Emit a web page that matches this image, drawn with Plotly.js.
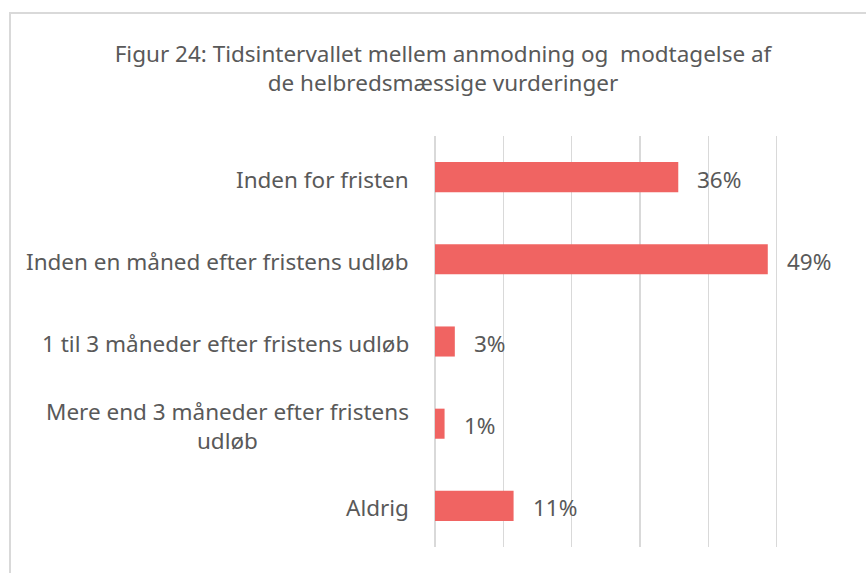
<!DOCTYPE html>
<html>
<head>
<meta charset="utf-8">
<script src="https://cdn.plot.ly/plotly-3.0.1.min.js"></script>
<style>html,body{margin:0;padding:0;background:#fff;}#chart{width:866px;height:573px;}</style>
</head>
<body>
<div id="chart"></div>
<script>
const categories = [
  "Inden for fristen",
  "Inden en måned efter fristens udløb",
  "1 til 3 måneder efter fristens udløb",
  "Mere end 3 måneder efter fristens<br>udløb",
  "Aldrig"
];
const values = [35.6, 48.7, 2.9, 1.4, 11.5];
const valueLabels = ["36%", "49%", "3%", "1%", "11%"];
const titleText = "Figur 24: Tidsintervallet mellem anmodning og  modtagelse af<br>de helbredsmæssige vurderinger";

const textColor = "#595959";
const fontFam = "Noto Sans, Open Sans, sans-serif";

const trace = {
  type: "bar",
  orientation: "h",
  x: values,
  y: categories,
  marker: {color: "#f06462"},
  hoverinfo: "skip"
};

const annotations = [];
categories.forEach((c, i) => {
  annotations.push({
    xref: "paper", yref: "y", x: 0, y: c, xanchor: "right", yanchor: "middle",
    xshift: -24, yshift: -2, text: c, showarrow: false, align: "center",
    font: {family: fontFam, size: 22.5, color: textColor}
  });
  annotations.push({
    xref: "x", yref: "y", x: values[i], y: c, xanchor: "left", yanchor: "middle",
    xshift: 17, yshift: -2, text: valueLabels[i], showarrow: false,
    font: {family: fontFam, size: 22.5, color: textColor}
  });
});

const L = 435, R = 845, T = 136, B = 547;
const px = v => (v - L) / (R - L);
const py = v => (B - v) / (B - T);

const layout = {
  width: 866, height: 573,
  margin: {l: L, r: 866 - R, t: T, b: 573 - B, pad: 0},
  paper_bgcolor: "#fff", plot_bgcolor: "#fff",
  showlegend: false,
  bargap: 0.634,
  title: {
    text: titleText,
    x: 443 / 866, xanchor: "center", xref: "container",
    y: 1 - 62 / 573, yanchor: "top", yref: "container",
    font: {family: fontFam, size: 22.5, color: textColor}
  },
  xaxis: {
    range: [0, 60], dtick: 10, showgrid: true, gridcolor: "#d9d9d9", gridwidth: 1.5,
    zeroline: true, zerolinecolor: "#d9d9d9", zerolinewidth: 1.5,
    showticklabels: false, ticks: "", showline: false, fixedrange: true
  },
  yaxis: {
    type: "category", autorange: "reversed", showticklabels: false, ticks: "",
    showgrid: false, zeroline: false, showline: false, fixedrange: true
  },
  annotations: annotations,
  shapes: [
    {type: "line", xref: "paper", yref: "paper", x0: px(10), x1: px(10), y0: py(12), y1: py(573),
     line: {color: "#d9d9d9", width: 2}},
    {type: "line", xref: "paper", yref: "paper", x0: px(9), x1: px(866), y0: py(13), y1: py(13),
     line: {color: "#d9d9d9", width: 2}}
  ]
};

Plotly.newPlot("chart", [trace], layout, {displayModeBar: false, staticPlot: true});
</script>
</body>
</html>
